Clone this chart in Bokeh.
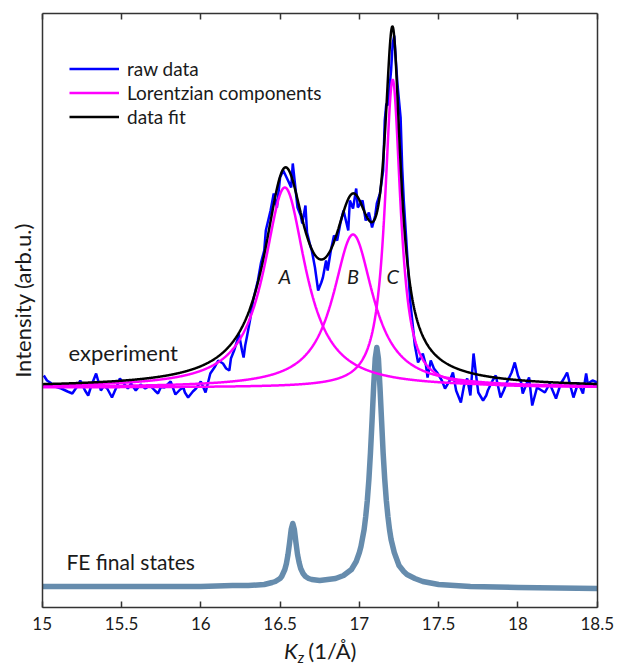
import math
import numpy as np
from bokeh.plotting import figure
from bokeh.models import Range1d, LinearAxis, FixedTicker, Legend, LegendItem, Label
from bokeh.core.properties import value
from bokeh.embed import file_html
from bokeh.resources import INLINE

# ---------------- data ----------------
raw_k = [15.01, 15.03, 15.05, 15.08, 15.12, 15.16, 15.19, 15.22, 15.24, 15.27,
         15.29, 15.31, 15.34, 15.37, 15.39, 15.41, 15.44, 15.47, 15.49, 15.52,
         15.54, 15.56, 15.59, 15.62, 15.65, 15.68, 15.71, 15.73, 15.75, 15.77,
         15.79, 15.81, 15.84, 15.87, 15.89, 15.90, 15.92, 15.95, 15.97, 16.00,
         16.03, 16.06, 16.09, 16.11, 16.14, 16.16, 16.18, 16.19, 16.21, 16.23,
         16.24, 16.26, 16.27, 16.28, 16.29, 16.31, 16.33, 16.36, 16.38, 16.40,
         16.41, 16.44, 16.46, 16.48, 16.50, 16.52, 16.55, 16.57, 16.58, 16.61,
         16.63, 16.64, 16.66, 16.67, 16.69, 16.70, 16.72, 16.74, 16.76, 16.77,
         16.79, 16.80, 16.82, 16.84, 16.86, 16.88, 16.90, 16.93, 16.94, 16.96,
         16.98, 16.99, 17.02, 17.04, 17.06, 17.08, 17.10, 17.11, 17.13, 17.15,
         17.16, 17.17, 17.18, 17.20, 17.21, 17.22, 17.23, 17.24, 17.26, 17.27,
         17.28, 17.30, 17.32, 17.34, 17.35, 17.37, 17.40, 17.42, 17.43, 17.45,
         17.47, 17.49, 17.52, 17.54, 17.57, 17.59, 17.61, 17.64, 17.66, 17.68,
         17.70, 17.72, 17.74, 17.75, 17.78, 17.80, 17.81, 17.84, 17.86, 17.89,
         17.91, 17.93, 17.96, 17.98, 18.00, 18.02, 18.03, 18.07, 18.09, 18.12,
         18.15, 18.17, 18.20, 18.24, 18.27, 18.29, 18.31, 18.33, 18.35, 18.38,
         18.41, 18.43, 18.44, 18.47, 18.50]
raw_i = [2.32, 2.27, 2.25, 2.21, 2.19, 2.16, 2.14, 2.21, 2.27, 2.17,
         2.12, 2.22, 2.34, 2.17, 2.22, 2.19, 2.10, 2.21, 2.29, 2.23,
         2.19, 2.24, 2.17, 2.23, 2.19, 2.22, 2.17, 2.14, 2.21, 2.20,
         2.23, 2.26, 2.13, 2.18, 2.20, 2.15, 2.10, 2.16, 2.19, 2.26,
         2.15, 2.34, 2.41, 2.47, 2.44, 2.39, 2.37, 2.49, 2.57, 2.67,
         2.74, 2.57, 2.50, 2.62, 2.70, 2.87, 3.07, 3.27, 3.45, 3.57,
         3.77, 3.97, 4.14, 4.00, 4.30, 4.37, 4.27, 4.20, 4.44, 4.00,
         3.92, 3.84, 4.02, 3.75, 3.62, 3.57, 3.40, 3.17, 3.25, 3.30,
         3.47, 3.37, 3.57, 3.72, 3.67, 3.84, 3.97, 3.77, 4.07, 3.99,
         4.19, 4.00, 4.07, 3.87, 3.95, 3.80, 3.92, 4.04, 4.14, 4.37,
         4.87, 5.04, 5.02, 5.37, 5.64, 5.72, 5.47, 5.24, 4.90, 4.40,
         4.07, 3.57, 3.07, 2.77, 2.62, 2.45, 2.54, 2.42, 2.30, 2.47,
         2.39, 2.35, 2.27, 2.19, 2.27, 2.35, 2.17, 2.05, 2.22, 2.29,
         2.12, 2.54, 2.27, 2.15, 2.07, 2.12, 2.17, 2.27, 2.32, 2.10,
         2.17, 2.25, 2.35, 2.45, 2.32, 2.25, 2.14, 2.30, 2.02, 2.20,
         2.17, 2.15, 2.24, 2.09, 2.24, 2.29, 2.35, 2.22, 2.10, 2.25,
         2.14, 2.34, 2.24, 2.27, 2.25]

# Lorentzian components A, B, C (centre, height above baseline, half width)
peak_names = ["A", "B", "C"]
comp_centers = [16.53, 16.96, 17.21]
comp_heights = [2.00, 1.53, 3.08]
comp_hwhm = [0.16, 0.155, 0.06]
comp_baseline = 2.20

# calculated FE final states curve
fe_k = [15.0, 15.5, 16.0, 16.2, 16.3, 16.4, 16.45, 16.47, 16.5, 16.51,
        16.53, 16.54, 16.55, 16.56, 16.57, 16.58, 16.59, 16.60, 16.61, 16.62,
        16.63, 16.645, 16.66, 16.68, 16.7, 16.75, 16.8, 16.85, 16.9, 16.95,
        16.98, 17.0, 17.01, 17.03, 17.04, 17.05, 17.06, 17.07, 17.08, 17.09,
        17.1, 17.11, 17.12, 17.13, 17.14, 17.15, 17.16, 17.17, 17.18, 17.19,
        17.2, 17.22, 17.25, 17.28, 17.3, 17.35, 17.4, 17.5, 17.7, 18.0, 18.5]
fe_i = [0.21, 0.21, 0.21, 0.22, 0.22, 0.23, 0.25, 0.26, 0.29, 0.31,
        0.38, 0.44, 0.53, 0.65, 0.78, 0.84, 0.78, 0.65, 0.53, 0.45,
        0.39, 0.34, 0.31, 0.29, 0.28, 0.27, 0.28, 0.29, 0.32, 0.38,
        0.46, 0.55, 0.61, 0.78, 0.91, 1.07, 1.28, 1.55, 1.87, 2.21,
        2.49, 2.60, 2.49, 2.20, 1.87, 1.54, 1.28, 1.07, 0.91, 0.78,
        0.68, 0.55, 0.42, 0.36, 0.33, 0.29, 0.26, 0.23, 0.21, 0.20, 0.19]

tick_values = [15, 15.5, 16, 16.5, 17, 17.5, 18, 18.5]
tick_labels = ["15", "15.5", "16", "16.5", "17", "17.5", "18", "18.5"]

# ---------------- model curves from the component parameters ----------------
kk = np.linspace(15.0, 18.5, 1401)
comp_curves = [h * g ** 2 / ((kk - c) ** 2 + g ** 2)
               for c, h, g in zip(comp_centers, comp_heights, comp_hwhm)]
comp_ys = [comp_baseline + cc for cc in comp_curves]
fit_y = comp_baseline + sum(comp_curves)

FONT = "Lato"
TXT = "#1a1a1a"
FRAME = "#333333"
X0, X1 = 15.0, 18.5
Y0, Y1 = 0.0, 5.94

# the plotting box spans the whole canvas width; the axes are drawn at fixed places
p = figure(width=618, height=664, x_range=Range1d(14.737, 18.634), y_range=Range1d(-0.57, Y1),
           x_axis_location=None, y_axis_location=None,
           output_backend="svg", toolbar_location=None,
           min_border_left=0, min_border_right=0, min_border_top=13, min_border_bottom=0,
           background_fill_color="white", border_fill_color="white")
p.grid.visible = False
p.outline_line_color = None

frame_style = dict(axis_line_color=FRAME, axis_line_width=1.5,
                   minor_tick_in=0, minor_tick_out=0, major_tick_out=0,
                   major_tick_line_color=FRAME, major_tick_line_width=1.5)

# ---------------- curves ----------------
p.line(fe_k, fe_i, line_color="#668cad", line_width=5.5, line_join="round", line_cap="butt")
r_raw = p.line(raw_k, raw_i, line_color="#0000ff", line_width=2.5)
r_comp = p.multi_line(xs=[kk, kk, kk], ys=comp_ys, line_color="#ff00ff", line_width=2.5)
r_fit = p.line(kk, fit_y, line_color="black", line_width=2.5)

xa = LinearAxis(fixed_location=Y0, bounds=(X0, X1), ticker=FixedTicker(ticks=tick_values),
                major_label_overrides={v: s for v, s in zip(tick_values, tick_labels)},
                major_tick_in=6, major_label_standoff=9,
                major_label_text_font=FONT, major_label_text_font_size="17px",
                major_label_text_color=TXT, **frame_style)
p.add_layout(xa, "below")

top = LinearAxis(bounds=(X0, X1), ticker=FixedTicker(ticks=tick_values), major_tick_in=6,
                 major_label_text_font_size="1px", major_label_text_color=None,
                 major_label_standoff=0, **frame_style)
p.add_layout(top, "above")

left = LinearAxis(fixed_location=X0, bounds=(Y0, Y1), ticker=FixedTicker(ticks=[]),
                  major_tick_in=0, major_label_standoff=0, **frame_style)
p.add_layout(left, "left")

right = LinearAxis(fixed_location=X1, bounds=(Y0, Y1), ticker=FixedTicker(ticks=[]),
                   major_tick_in=0, major_label_standoff=0, **frame_style)
p.add_layout(right, "right")

legend = Legend(items=[LegendItem(label="raw data", renderers=[r_raw]),
                       LegendItem(label="Lorentzian components", renderers=[r_comp]),
                       LegendItem(label="data fit", renderers=[r_fit])],
                location=(69, 536), glyph_width=50, glyph_height=21, label_height=21,
                spacing=1, label_standoff=8, padding=0, margin=0,
                border_line_color=None, background_fill_alpha=0,
                label_text_font=FONT, label_text_font_size="19px", label_text_color=TXT)
p.add_layout(legend)

# ---------------- text annotations ----------------
p.text(x=comp_centers, y=[3.32] * 3, text=peak_names, text_font=value(FONT),
       text_font_style="italic", text_font_size="20px", text_align="center",
       text_baseline="middle", text_color=TXT)
p.add_layout(Label(x=15.166, y=2.55, text="experiment", text_font=FONT, text_font_size="22px",
                   text_baseline="middle", text_align="left", text_color=TXT))
p.add_layout(Label(x=15.153, y=0.46, text="FE final states", text_font=FONT,
                   text_font_size="21px", text_baseline="middle", text_align="left",
                   text_color=TXT))

# y-axis title
p.add_layout(Label(x=14.876, y=3.07, text="Intensity (arb.u.)", angle=math.pi / 2,
                   text_font=FONT, text_font_size="22px", text_baseline="middle",
                   text_align="center", text_color=TXT))

# x-axis title: italic K with subscript z, then the unit
p.add_layout(Label(x=16.525, y=-0.43, text="K", text_font=FONT, text_font_size="22px",
                   text_font_style="italic", text_baseline="middle", text_align="left",
                   text_color=TXT))
p.add_layout(Label(x=16.612, y=-0.49, text="z", text_font=FONT, text_font_size="15px",
                   text_font_style="italic", text_baseline="middle", text_align="left",
                   text_color=TXT))
p.add_layout(Label(x=16.678, y=-0.43, text="(1/Å)", text_font=FONT, text_font_size="22px",
                   text_baseline="middle", text_align="left", text_color=TXT))

open("out.html", "w").write(file_html(p, INLINE))
